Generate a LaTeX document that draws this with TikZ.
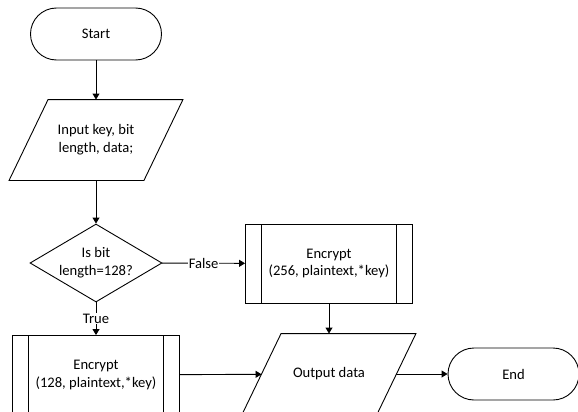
\documentclass[tikz,border=0pt]{standalone}
\usepackage{fontspec}
\setmainfont{Carlito}
\usetikzlibrary{arrows.meta,shapes.geometric}

\tikzset{
    term/.style={draw, rectangle, rounded corners=26pt, minimum width=131pt, minimum height=52pt},
    io/.style={rectangle, minimum width=134pt, minimum height=80pt, align=center},
    decision/.style={draw, diamond, aspect=1.7, inner sep=-2pt, minimum width=132pt,
        minimum height=78pt, align=center},
    subproc/.style={draw, rectangle, minimum width=167pt, minimum height=79pt, align=center,
        path picture={\draw ([xshift=16pt]path picture bounding box.north west) -- ([xshift=16pt]path picture bounding box.south west)
            ([xshift=-16pt]path picture bounding box.north east) -- ([xshift=-16pt]path picture bounding box.south east);}},
    lbl/.style={fill=white, inner sep=1pt}
}

\begin{document}
\begin{tikzpicture}[x=1pt, y=-1pt, line width=0.9pt, font=\fontsize{14.6pt}{17.8pt}\selectfont,
    >={Triangle[length=6pt, width=7pt]}]
    \path[use as bounding box, clip] (0,0) rectangle (578,412);

    \node[term] (start) at (96, 34) {Start};
    \node[io] (input) at (96, 140) {Input key, bit\\length, data;};
    \node[decision] (dec) at (96, 263) {Is bit\\length=128?};
    \node[subproc] (enc256) at (329, 263.5) {Encrypt\\(256, plaintext,*key)};
    \node[subproc] (enc128) at (96, 375) {Encrypt\\(128, plaintext,*key)};
    \node[io] (out) at (329, 374) {Output data};
    \node[term] (end) at (513.5, 374) {End};

    % slanted sides of the data boxes
    \foreach \n in {input, out}
        \draw ([xshift=19.5pt]\n.north west) -- ([xshift=19.5pt]\n.north east)
              -- ([xshift=-19.5pt]\n.south east) -- ([xshift=-19.5pt]\n.south west) -- cycle;

    \draw[->] (start) edge (input)
          (input) edge (dec)
          (dec) edge node[lbl] {False} (enc256)
          (dec) edge node[lbl] {True} (enc128)
          (enc256) edge (out)
          (enc128) edge (out)
          (out) edge (end)
          ;
\end{tikzpicture}
\end{document}
